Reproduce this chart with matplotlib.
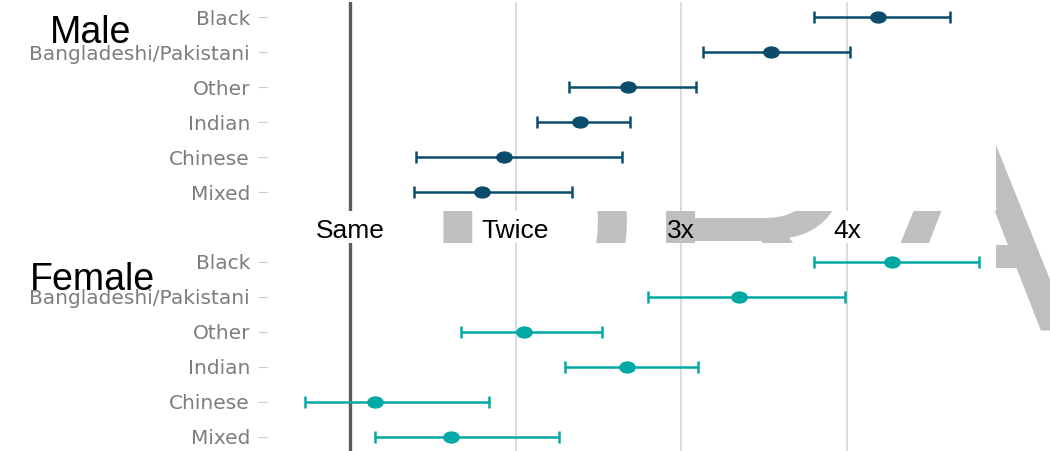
import matplotlib
matplotlib.use("Agg")
import matplotlib.pyplot as plt
from matplotlib.path import Path
from matplotlib.transforms import Affine2D

# ---- data ----
categories = ["Black", "Bangladeshi/Pakistani", "Other", "Indian", "Chinese", "Mixed"]
male_est = [4.19, 3.54, 2.68, 2.39, 1.93, 1.80]
male_lo = [3.80, 3.13, 2.32, 2.13, 1.40, 1.39]
male_hi = [4.62, 4.02, 3.09, 2.69, 2.64, 2.34]
female_est = [4.27, 3.35, 2.05, 2.67, 1.15, 1.61]
female_lo = [3.80, 2.80, 1.67, 2.30, 0.73, 1.15]
female_hi = [4.80, 3.99, 2.52, 3.10, 1.84, 2.26]
x_ticks = [1, 2, 3, 4]
x_labels = ["Same", "Twice", "3x", "4x"]

MALE_C = "#0b4c6d"
FEMALE_C = "#00a9a4"

W, H = 1050, 451
fig = plt.figure(figsize=(W / 100, H / 100), dpi=100)
fig.patch.set_facecolor("white")

def fx(px):
    return px / W

def fy(py):
    return (H - py) / H

# watermark behind the panels
fig.text(fx(418), fy(329), "DRAFT", fontsize=223, family="Liberation Sans",
         color="#bfbfbf", ha="left", va="baseline", zorder=-5)

ax_left, ax_right = 267, 996
ax_m = fig.add_axes([fx(ax_left), fy(211), fx(ax_right - ax_left), (211 - 2) / H])
ax_f = fig.add_axes([fx(ax_left), fy(451), fx(ax_right - ax_left), (451 - 243) / H])

ell = Path.unit_circle().transformed(Affine2D().scale(1.4, 1.0))

def panel(ax, est, lo, hi, color, ylim):
    ax.set_facecolor("white")
    for s in ax.spines.values():
        s.set_visible(False)
    ax.set_xlim(0.5, 4.9)
    ax.set_ylim(*ylim)
    ax.set_xticks(x_ticks)
    ax.xaxis.grid(True, color="#d9d9d9", lw=1.3, zorder=0)
    ax.set_axisbelow(True)
    ax.axvline(1, color="#5c5c5c", lw=2.4, zorder=1)
    ys = list(range(len(categories)))
    xerr = [[e - l for e, l in zip(est, lo)], [h - e for e, h in zip(est, hi)]]
    ax.errorbar(est, ys, xerr=xerr, fmt="none", ecolor=color, elinewidth=1.8,
                capsize=4, capthick=1.8, zorder=3)
    ax.plot(est, ys, ls="none", marker=ell, ms=11, color=color, mec=color, zorder=4)
    ax.set_yticks(ys)
    ax.set_yticklabels(categories, family="DejaVu Sans", fontsize=14.5, color="#7d7d7d")
    ax.tick_params(axis="y", length=6.5, width=0.8, color="#cccccc", pad=5.8)

panel(ax_m, male_est, male_lo, male_hi, MALE_C, (5.54, -0.43))
panel(ax_f, female_est, female_lo, female_hi, FEMALE_C, (5.40, -0.54))

ax_m.set_xticklabels(x_labels, family="Liberation Sans", fontsize=19, color="black")
ax_m.tick_params(axis="x", length=0, pad=5.5)
ax_f.tick_params(axis="x", length=0, labelbottom=False)

fig.text(fx(50), fy(43), "Male", fontsize=27, family="Liberation Sans",
         color="black", ha="left", va="baseline")
fig.text(fx(30), fy(290), "Female", fontsize=27, family="Liberation Sans",
         color="black", ha="left", va="baseline")

fig.savefig("out.png", dpi=100, facecolor="white")
